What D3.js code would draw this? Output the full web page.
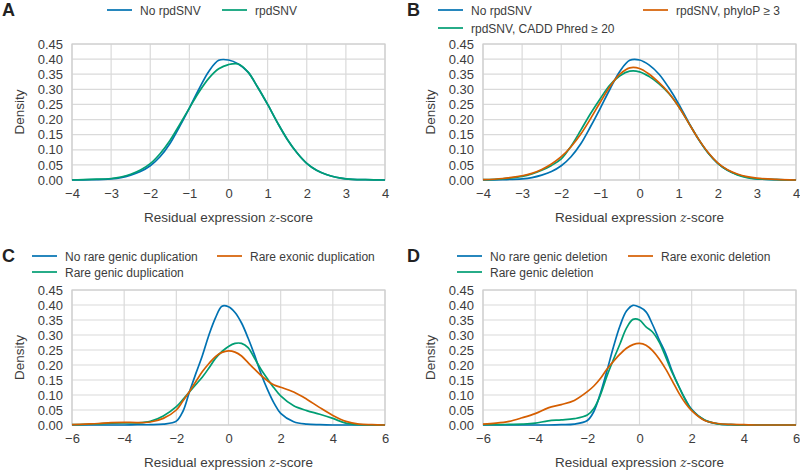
<!DOCTYPE html>
<html><head><meta charset="utf-8">
<script src="https://cdn.jsdelivr.net/npm/d3@7"></script>
<style>
body{margin:0;background:#fff}
svg{display:block}
text{font-family:"Liberation Sans",Arial,sans-serif}
</style>
</head><body>
<svg id="c" width="800" height="471"></svg>
<script>
// ---- data ----
const zAB = [-4,-3.5,-3,-2.75,-2.5,-2.25,-2,-1.75,-1.5,-1.25,-1,-0.75,-0.5,-0.25,0,0.25,0.5,0.75,1,1.25,1.5,1.75,2,2.25,2.5,2.75,3,3.5,4];
const zCD = [-6,-5.5,-5,-4.5,-4,-3.5,-3,-2.5,-2,-1.75,-1.5,-1.25,-1,-0.75,-0.5,-0.25,0,0.25,0.5,0.75,1,1.25,1.5,1.75,2,2.5,3,3.5,4,4.5,5,5.5,6];

const aNoRpd  = [0,0.001,0.004,0.008,0.016,0.028,0.047,0.077,0.12,0.177,0.238,0.302,0.36,0.396,0.397,0.384,0.357,0.306,0.25,0.19,0.135,0.09,0.055,0.032,0.018,0.009,0.004,0.001,0];
const aRpd    = [0,0.002,0.005,0.01,0.019,0.033,0.054,0.087,0.13,0.183,0.238,0.292,0.337,0.368,0.382,0.384,0.357,0.306,0.25,0.19,0.135,0.09,0.055,0.032,0.018,0.009,0.004,0.001,0];

const bNoRpd  = [0,0.001,0.004,0.008,0.016,0.028,0.047,0.077,0.12,0.177,0.238,0.302,0.36,0.396,0.397,0.38,0.35,0.305,0.252,0.192,0.136,0.09,0.055,0.032,0.018,0.009,0.004,0.001,0];
const bCadd   = [0.001,0.004,0.012,0.02,0.032,0.048,0.07,0.112,0.165,0.22,0.27,0.315,0.345,0.36,0.358,0.342,0.318,0.286,0.243,0.19,0.137,0.09,0.055,0.032,0.017,0.008,0.004,0.001,0];
const bPhylo  = [0.001,0.005,0.014,0.022,0.035,0.053,0.077,0.11,0.152,0.203,0.258,0.31,0.35,0.371,0.369,0.35,0.322,0.288,0.243,0.19,0.137,0.092,0.057,0.034,0.02,0.011,0.006,0.002,0];

const cNoDup     = [0,0,0,0,0,0.001,0.001,0.003,0.013,0.045,0.11,0.172,0.232,0.3,0.357,0.396,0.394,0.375,0.34,0.29,0.233,0.17,0.117,0.072,0.039,0.011,0.003,0.001,0,0,0,0,0];
const cGenicDup  = [0.001,0.002,0.004,0.006,0.007,0.007,0.012,0.03,0.061,0.085,0.11,0.135,0.16,0.19,0.222,0.245,0.262,0.272,0.272,0.258,0.222,0.185,0.153,0.123,0.097,0.064,0.048,0.036,0.022,0.006,0.001,0,0];
const cExonicDup = [0.001,0.003,0.005,0.008,0.009,0.008,0.01,0.022,0.05,0.08,0.111,0.145,0.178,0.205,0.228,0.242,0.247,0.243,0.23,0.208,0.186,0.165,0.147,0.133,0.126,0.11,0.086,0.058,0.032,0.012,0.003,0.001,0];

const dNoDel     = [0,0,0,0,0,0,0.001,0.003,0.015,0.045,0.105,0.18,0.26,0.33,0.38,0.399,0.393,0.377,0.335,0.285,0.239,0.18,0.13,0.087,0.052,0.016,0.004,0.001,0,0,0,0,0];
const dGenicDel  = [0.001,0.001,0.002,0.003,0.006,0.014,0.017,0.021,0.033,0.055,0.1,0.163,0.218,0.27,0.323,0.352,0.35,0.327,0.31,0.277,0.228,0.175,0.13,0.085,0.05,0.017,0.004,0.001,0,0,0,0,0];
const dExonicDel = [0.003,0.006,0.012,0.024,0.038,0.057,0.068,0.082,0.111,0.13,0.155,0.186,0.212,0.236,0.256,0.268,0.272,0.266,0.248,0.221,0.187,0.148,0.108,0.074,0.048,0.015,0.005,0.002,0.001,0,0,0,0];

const yTickVals  = [0,0.05,0.10,0.15,0.20,0.25,0.30,0.35,0.40,0.45];
const xTicksAB   = [-4,-3,-2,-1,0,1,2,3,4];
const xTicksCD   = [-6,-4,-2,0,2,4,6];

const BLUE = "#0072B2", GREEN = "#009E73", ORANGE = "#D55E00";

const panels = [
  {label:"A", lab:[2,16], box:[72,385,44,180], dom:[-4,4], xs:zAB, ticks:xTicksAB, dens:19,
   series:[{name:"No rpdSNV", v:aNoRpd, c:BLUE},{name:"rpdSNV", v:aRpd, c:GREEN}],
   leg:[[107,10],[222,10]]},
  {label:"B", lab:[407,16], box:[483,796,44,180], dom:[-4,4], xs:zAB, ticks:xTicksAB, dens:430,
   series:[{name:"No rpdSNV", v:bNoRpd, c:BLUE},{name:"rpdSNV, CADD Phred \u2265 20", v:bCadd, c:GREEN},{name:"rpdSNV, phyloP \u2265 3", v:bPhylo, c:ORANGE}],
   leg:[[438,10],[438,28],[643,10]]},
  {label:"C", lab:[2,262], box:[72,385,290,425], dom:[-6,6], xs:zCD, ticks:xTicksCD, dens:19,
   series:[{name:"No rare genic duplication", v:cNoDup, c:BLUE},{name:"Rare genic duplication", v:cGenicDup, c:GREEN},{name:"Rare exonic duplication", v:cExonicDup, c:ORANGE}],
   leg:[[32,256],[32,272],[217,256]]},
  {label:"D", lab:[407,262], box:[483,796,290,425], dom:[-6,6], xs:zCD, ticks:xTicksCD, dens:430,
   series:[{name:"No rare genic deletion", v:dNoDel, c:BLUE},{name:"Rare genic deletion", v:dGenicDel, c:GREEN},{name:"Rare exonic deletion", v:dExonicDel, c:ORANGE}],
   leg:[[457,256],[457,272],[628,256]]}
];

const svg = d3.select("#c");
const GRID = "#dadada", TXT = "#3c3c3c";

panels.forEach(p => {
  const [x0,x1,y0,y1] = p.box;
  const x = d3.scaleLinear().domain(p.dom).range([x0,x1]);
  const y = d3.scaleLinear().domain([0,0.45]).range([y1,y0]);
  const g = svg.append("g");

  // grid
  g.selectAll(".vg").data(p.ticks).join("line")
    .attr("x1",d=>x(d)).attr("x2",d=>x(d)).attr("y1",y0).attr("y2",y1)
    .attr("stroke",GRID).attr("stroke-width",1.2);
  g.selectAll(".hg").data(yTickVals).join("line")
    .attr("x1",x0).attr("x2",x1).attr("y1",d=>y(d)).attr("y2",d=>y(d))
    .attr("stroke",GRID).attr("stroke-width",1.2);
  g.append("rect").attr("x",x0).attr("y",y0).attr("width",x1-x0).attr("height",y1-y0)
    .attr("fill","none").attr("stroke","#cfcfcf").attr("stroke-width",1.2);

  // axes (tick labels only)
  const xa = g.append("g").attr("transform",`translate(0,${y1})`)
    .call(d3.axisBottom(x).tickValues(p.ticks).tickSize(0).tickPadding(9).tickFormat(d3.format("d")));
  const ya = g.append("g").attr("transform",`translate(${x0},0)`)
    .call(d3.axisLeft(y).tickValues(yTickVals).tickSize(0).tickPadding(9).tickFormat(d3.format(".2f")));
  [xa,ya].forEach(a=>{
    a.select(".domain").remove();
    a.selectAll("text").attr("font-size",13).attr("fill",TXT).attr("font-family",'"Liberation Sans",Arial,sans-serif');
  });

  // curves
  const line = d3.line().x((d,i)=>x(p.xs[i])).y(d=>y(Math.max(0,d))).curve(d3.curveCatmullRom.alpha(0.5));
  p.series.forEach(s=>{
    g.append("path").attr("d",line(s.v)).attr("fill","none")
      .attr("stroke",s.c).attr("stroke-width",1.7);
  });

  // axis titles
  const xt = g.append("text").attr("x",(x0+x1)/2).attr("y",y1+42)
    .attr("text-anchor","middle").attr("font-size",13.5).attr("fill",TXT);
  xt.append("tspan").text("Residual expression ");
  xt.append("tspan").text("z").attr("font-style","italic").attr("font-family",'"DejaVu Serif",serif').attr("font-size",12);
  xt.append("tspan").text("-score");
  g.append("text").attr("transform",`translate(${p.dens+5},${(y0+y1)/2}) rotate(-90)`)
    .attr("text-anchor","middle").attr("font-size",13.5).attr("fill",TXT).text("Density");

  // panel label
  g.append("text").attr("x",p.lab[0]).attr("y",p.lab[1]).attr("font-size",18)
    .attr("font-weight","bold").attr("fill","#222").text(p.label);

  // legend
  p.series.forEach((s,i)=>{
    const [lx,ly] = p.leg[i];
    g.append("line").attr("x1",lx).attr("x2",lx+25).attr("y1",ly).attr("y2",ly)
      .attr("stroke",s.c).attr("stroke-width",1.7);
    g.append("text").attr("x",lx+33).attr("y",ly+4.5).attr("font-size",12)
      .attr("fill",TXT).text(s.name);
  });
});
</script>
</body></html>
